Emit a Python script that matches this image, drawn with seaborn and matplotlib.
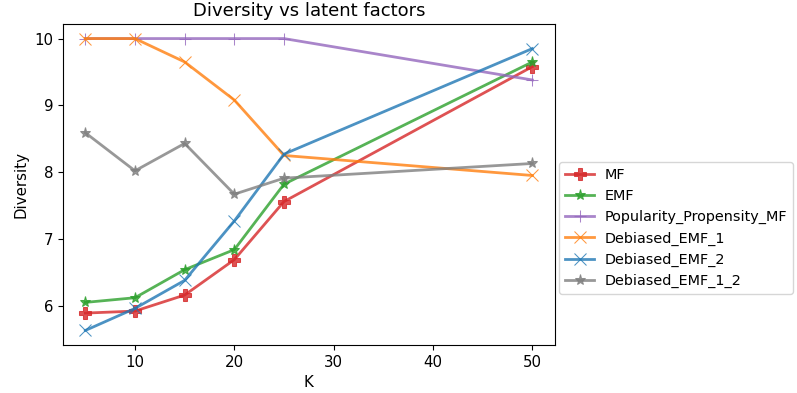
import matplotlib
matplotlib.use("Agg")
import matplotlib.pyplot as plt
import seaborn as sns

K = [5, 10, 15, 20, 25, 50]

mf = [5.89, 5.92, 6.16, 6.69, 7.56, 9.58]
emf = [6.05, 6.12, 6.54, 6.84, 7.82, 9.65]
pop_mf = [10.0, 10.0, 10.0, 10.0, 10.0, 9.38]
deb_1 = [10.0, 10.0, 9.65, 9.08, 8.25, 7.95]
deb_2 = [5.63, 5.96, 6.38, 7.27, 8.27, 9.85]
deb_12 = [8.59, 8.02, 8.43, 7.67, 7.91, 8.13]

series = [
    ("MF", mf, "tab:red", "P"),
    ("EMF", emf, "tab:green", "*"),
    ("Popularity_Propensity_MF", pop_mf, "tab:purple", "+"),
    ("Debiased_EMF_1", deb_1, "tab:orange", "x"),
    ("Debiased_EMF_2", deb_2, "tab:blue", "x"),
    ("Debiased_EMF_1_2", deb_12, "tab:gray", "*"),
]

plt.rcParams["font.size"] = 10.8

fig = plt.figure(figsize=(7.97, 3.93), dpi=100)
ax = fig.add_axes([0.079, 0.122, 0.617, 0.817])

for name, vals, col, mk in series:
    sns.lineplot(x=K, y=vals, ax=ax, color=col, marker=mk, markersize=8,
                 markeredgecolor=col, lw=2, alpha=0.8, label=name)

ax.set_title("Diversity vs latent factors", fontsize=13)
ax.set_xlabel("K")
ax.set_ylabel("Diversity")
ax.set_xticks([10, 20, 30, 40, 50])
ax.set_yticks([6, 7, 8, 9, 10])
ax.legend(loc="upper left", bbox_to_anchor=(0.995, 0.593), fontsize=10.4,
          handletextpad=0.7)

fig.savefig("out.png", dpi=100)
